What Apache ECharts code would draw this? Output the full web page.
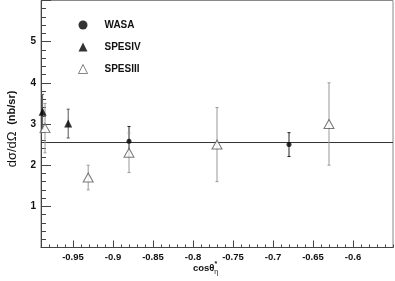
<!DOCTYPE html>
<html><head><meta charset="utf-8">
<script src="https://cdn.jsdelivr.net/npm/echarts@6/dist/echarts.min.js"></script>
<style>html,body{margin:0;padding:0;background:#fff}#c{width:395px;height:281px}</style>
</head><body><div id="c"></div>
<script>
// data
const wasaX = [-0.88, -0.68];
const wasaY = [2.58, 2.50];
const wasaErr = [0.36, 0.29];
const spes4X = [-0.988, -0.956];
const spes4Y = [3.30, 3.01];
const spes4Err = [0.42, 0.35];
const spes3X = [-0.985, -0.931, -0.88, -0.77, -0.63];
const spes3Y = [2.90, 1.70, 2.30, 2.50, 3.00];
const spes3Err = [0.60, 0.30, 0.48, 0.90, 1.00];
const fitValue = 2.55;
const xTickLabels = [-0.95, -0.9, -0.85, -0.8, -0.75, -0.7, -0.65, -0.6];
const yTickLabels = [1, 2, 3, 4, 5];
const seriesNames = ['WASA', 'SPESIV', 'SPESIII'];

const xMinorTicks = [];
for (let i = -99; i <= -55; i++) xMinorTicks.push(i / 100);

function errData(xs, ys, es) { return xs.map((x, i) => [x, ys[i], es[i]]); }
function errSeries(xs, ys, es, color) {
  return {
    type: 'custom', xAxisIndex: 0, yAxisIndex: 0, silent: true, z: 2,
    data: errData(xs, ys, es),
    renderItem: function (params, api) {
      const x = api.value(0), y = api.value(1), e = api.value(2);
      const p1 = api.coord([x, y + e]);
      const p2 = api.coord([x, y - e]);
      const st = { stroke: color, lineWidth: 1 };
      return { type: 'group', children: [
        { type: 'line', shape: { x1: p1[0], y1: p1[1], x2: p2[0], y2: p2[1] }, style: st },
        { type: 'line', shape: { x1: p1[0] - 1.5, y1: p1[1], x2: p1[0] + 1.5, y2: p1[1] }, style: st },
        { type: 'line', shape: { x1: p2[0] - 1.5, y1: p2[1], x2: p2[0] + 1.5, y2: p2[1] }, style: st }
      ]};
    }
  };
}
const font = 'Liberation Sans, Arial, sans-serif';
const chart = echarts.init(document.getElementById('c'));
chart.setOption({
  animation: false,
  backgroundColor: '#fff',
  grid: { left: 41, right: 2, top: 0.5, bottom: 33.5, show: true, borderColor: '#888', borderWidth: 1 },
  xAxis: [{
    type: 'value', min: -0.99, max: -0.55,
    axisLine: { lineStyle: { color: '#444', width: 1 } },
    axisTick: { inside: true, length: 7, customValues: xTickLabels, lineStyle: { color: '#444' } },
    axisLabel: { customValues: xTickLabels, color: '#111', fontFamily: font, fontWeight: 'bold', fontSize: 9.5, margin: 5,
      formatter: v => String(Math.round(v * 100) / 100) },
    splitLine: { show: false }
  }, {
    type: 'value', min: -0.99, max: -0.55, position: 'bottom',
    axisLine: { show: false },
    axisTick: { inside: true, length: 3, customValues: xMinorTicks, lineStyle: { color: '#444' } },
    axisLabel: { show: false },
    splitLine: { show: false }
  }],
  yAxis: {
    type: 'value', min: 0, max: 6, interval: 1,
    axisLine: { show: true, lineStyle: { color: '#444', width: 1 } },
    axisTick: { show: true, inside: true, length: 10, lineStyle: { color: '#444' } },
    minorTick: { show: true, splitNumber: 5, length: 5, lineStyle: { color: '#444' } },
    axisLabel: { color: '#111', fontFamily: font, fontWeight: 'bold', fontSize: 10, margin: 5,
      formatter: v => yTickLabels.indexOf(v) >= 0 ? String(v) : '' },
    splitLine: { show: false }
  },
  legend: {
    orient: 'vertical', left: 73, top: 15, itemGap: 12, itemWidth: 9, itemHeight: 9,
    textStyle: { fontFamily: font, fontWeight: 'bold', fontSize: 10, color: '#111', padding: [0, 0, 0, 12] },
    data: [
      { name: 'WASA', icon: 'circle', itemStyle: { color: '#000' } },
      { name: 'SPESIV', icon: 'triangle', itemStyle: { color: '#000' } },
      { name: 'SPESIII', icon: 'triangle', itemStyle: { color: '#fff', borderColor: '#666', borderWidth: 1 } }
    ]
  },
  graphic: [
    { type: 'text', x: 12, y: 129, rotation: Math.PI / 2,
      style: { text: '{g|dσ/dΩ}  {t|(nb/sr)}', align: 'center', verticalAlign: 'middle', rich: {
        g: { font: '13px ' + font, fill: '#111' },
        t: { font: 'bold 11px ' + font, fill: '#111' } } } },
    { type: 'text', left: 193, top: 261, style: { text: '{m|cosθ}{s|*}{b|η}', rich: {
      m: { font: 'bold 9.5px ' + font, fill: '#111' },
      s: { font: 'bold 7px ' + font, fill: '#111', verticalAlign: 'top', padding: [0, 0, 8, 0] },
      b: { font: '7px ' + font, fill: '#111', padding: [7, 0, 0, -3] } } } }
  ],
  series: [
    {
      type: 'line', name: 'fit', data: [[-0.99, fitValue], [-0.55, fitValue]], symbol: 'none',
      lineStyle: { color: '#333', width: 1 }, z: 1, silent: true
    },
    errSeries(wasaX, wasaY, wasaErr, '#222'),
    errSeries(spes4X, spes4Y, spes4Err, '#555'),
    errSeries(spes3X, spes3Y, spes3Err, '#999'),
    { type: 'scatter', name: 'WASA', data: wasaX.map((x, i) => [x, wasaY[i]]), symbol: 'circle', symbolSize: 5,
      itemStyle: { color: '#000' }, z: 5 },
    { type: 'scatter', name: 'SPESIV', data: spes4X.map((x, i) => [x, spes4Y[i]]), symbol: 'triangle', symbolSize: [8, 8],
      itemStyle: { color: '#000' }, z: 5 },
    { type: 'scatter', name: 'SPESIII', data: spes3X.map((x, i) => [x, spes3Y[i]]), symbol: 'triangle', symbolSize: [10, 9],
      itemStyle: { color: '#fff', borderColor: '#555', borderWidth: 1 }, z: 5 }
  ]
});
</script></body></html>
